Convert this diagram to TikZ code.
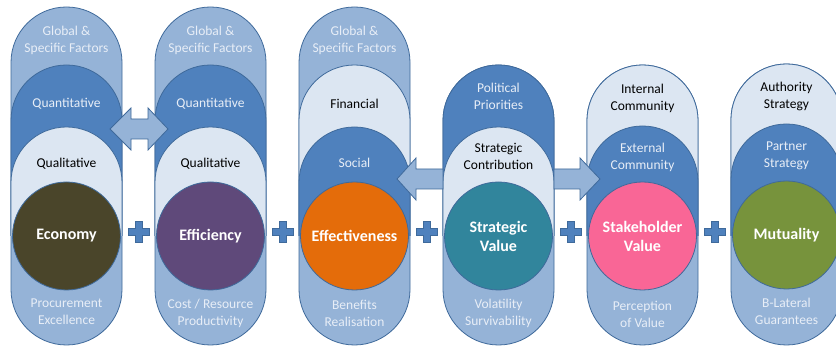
\documentclass[tikz,border=0pt]{standalone}
\usepackage{fontspec}
\setmainfont{Carlito}
\definecolor{outerblue}{HTML}{95B3D7}
\definecolor{darkblue}{HTML}{4F81BD}
\definecolor{lightblue}{HTML}{DCE6F2}
\definecolor{edgeblue}{HTML}{3F6A9B}
\definecolor{ltext}{HTML}{E8EEF7}
\definecolor{economyc}{HTML}{4A452A}
\definecolor{efficiencyc}{HTML}{5F497A}
\definecolor{effectivec}{HTML}{E46C0A}
\definecolor{strategicc}{HTML}{31859C}
\definecolor{stakeholderc}{HTML}{F96696}
\definecolor{mutualc}{HTML}{77933C}
\newcommand{\fullcap}[3]{%
  \filldraw[edgesty, fill=outerblue] (#1-55.5,#3+55.5) -- (#1-55.5,#2-55.5) arc (180:0:55.5pt) -- (#1+55.5,#3+55.5) arc (0:-180:55.5pt) -- cycle;}
\newcommand{\drawlayer}[3]{%
  \fill[#3] (#1-55.5,111) -- (#1-55.5,#2-55.5) arc (180:0:55.5pt) -- (#1+55.5,111);
  \draw[edgesty] (#1-55.5,111) -- (#1-55.5,#2-55.5) arc (180:0:55.5pt) -- (#1+55.5,111);}
\newcommand{\plussign}[2]{%
  \filldraw[edgesty, fill=darkblue] (#1-3.5,#2+10.5) -- (#1+3.5,#2+10.5) -- (#1+3.5,#2+3.5) -- (#1+10.5,#2+3.5) -- (#1+10.5,#2-3.5) -- (#1+3.5,#2-3.5) -- (#1+3.5,#2-10.5) -- (#1-3.5,#2-10.5) -- (#1-3.5,#2-3.5) -- (#1-10.5,#2-3.5) -- (#1-10.5,#2+3.5) -- (#1-3.5,#2+3.5) -- cycle;}
\tikzset{
  edgesty/.style={draw=edgeblue, line width=0.8pt},
  lt/.style={text=ltext, align=center, inner sep=0pt, font=\fontsize{13.5}{17}\selectfont},
  dt/.style={text=black, align=center, inner sep=0pt, font=\fontsize{13.5}{17}\selectfont},
  core/.style={circle, minimum size=108pt, inner sep=0pt, draw=edgeblue, line width=0.8pt, text=white, align=center, font=\bfseries\fontsize{16}{19}\selectfont},
  blockarrow/.style={draw=edgeblue, line width=0.8pt, fill=outerblue}
}
\begin{document}
\begin{tikzpicture}[x=1pt,y=1pt]
\useasboundingbox (0,0) rectangle (836,347);
\fill[white] (0,0) rectangle (836,347);
\clip (0,0) rectangle (836,347);
% column 1
\fullcap{66.5}{340}{2}
\drawlayer{66.5}{282}{darkblue}
\drawlayer{66.5}{220}{lightblue}
\node[core, fill=economyc] (economy) at (66.5,111) {Economy};
\node[lt] (c1top) at (66.5,307) {Global \&\\Specific Factors};
\node[lt] (c1q) at (66.5,243) {Quantitative};
\node[dt] (c1l) at (66.5,183) {Qualitative};
\node[lt] (c1b) at (66.5,35) {Procurement\\Excellence};
% column 2
\fullcap{210.5}{340}{2}
\drawlayer{210.5}{282}{darkblue}
\drawlayer{210.5}{220}{lightblue}
\node[core, fill=efficiencyc] (efficiency) at (210.5,111) {Efficiency};
\node[lt] (c2top) at (210.5,307) {Global \&\\Specific Factors};
\node[lt] (c2q) at (210.5,243) {Quantitative};
\node[dt] (c2l) at (210.5,183) {Qualitative};
\node[lt] (c2b) at (210.5,33.5) {Cost / Resource\\Productivity};
% column 3
\fullcap{354.5}{340}{2}
\drawlayer{354.5}{282}{lightblue}
\drawlayer{354.5}{220}{darkblue}
\node[core, fill=effectivec] (effectiveness) at (354.5,111) {Effectiveness};
\node[lt] (c3top) at (354.5,307) {Global \&\\Specific Factors};
\node[dt] (c3f) at (354.5,243) {Financial};
\node[lt] (c3s) at (354.5,184) {Social};
\node[lt] (c3b) at (354.5,33.5) {Benefits\\Realisation};
% column 4
\fullcap{498.5}{282}{2}
\drawlayer{498.5}{282}{darkblue}
\drawlayer{498.5}{220}{lightblue}
\node[core, fill=strategicc] (strategic) at (498.5,111) {Strategic\\Value};
\node[lt] (c4p) at (498.5,251) {Political\\Priorities};
\node[dt] (c4s) at (498.5,190.5) {Strategic\\Contribution};
\node[lt] (c4b) at (498.5,33.5) {Volatility\\Survivability};
% column 5
\fullcap{642.5}{282}{2}
\drawlayer{642.5}{282}{lightblue}
\drawlayer{642.5}{221}{darkblue}
\node[core, fill=stakeholderc] (stakeholder) at (642.5,111) {Stakeholder\\Value};
\node[dt] (c5i) at (642.5,248.5) {Internal\\Community};
\node[lt] (c5e) at (642.5,190) {External\\Community};
\node[lt] (c5b) at (642.5,33) {Perception\\of Value};
% column 6
\fullcap{786.5}{283}{2}
\drawlayer{786.5}{283}{lightblue}
\drawlayer{786.5}{223}{darkblue}
\node[core, fill=mutualc] (mutuality) at (786.5,112) {Mutuality};
\node[dt] (c6a) at (786.5,250.5) {Authority\\Strategy};
\node[lt] (c6p) at (786.5,191.5) {Partner\\Strategy};
\node[lt] (c6b) at (786.5,35.5) {B-Lateral\\Guarantees};
% plus signs
\plussign{138.5}{115}
\plussign{282.5}{115}
\plussign{426.5}{115}
\plussign{570.5}{115}
\plussign{714.5}{115}
% double arrow between columns 1 and 2
\filldraw[blockarrow] (110,218) -- (131,239) -- (131,228) -- (148,228) -- (148,239) -- (168,218) -- (148,197) -- (148,208) -- (131,208) -- (131,197) -- cycle;
% arrow from column 4 to column 3
\filldraw[blockarrow] (397,168) -- (416,189) -- (416,178) -- (443,178) -- (443,158) -- (416,158) -- (416,147) -- cycle;
% arrow from column 4 to column 5
\filldraw[blockarrow] (600,168) -- (580,189) -- (580,178) -- (554,178) -- (554,158) -- (580,158) -- (580,147) -- cycle;
\end{tikzpicture}
\end{document}
